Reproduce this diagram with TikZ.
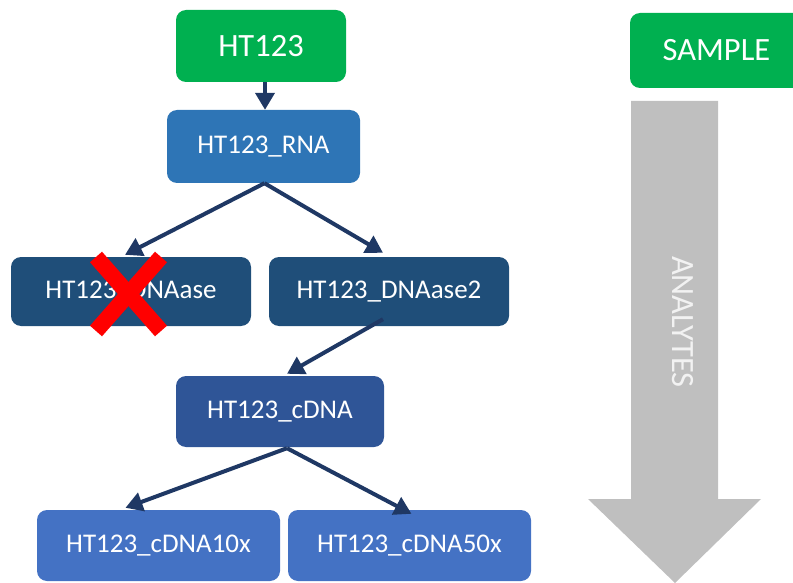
\documentclass[tikz,border=0pt]{standalone}
\usepackage{fontspec}
\setmainfont{Carlito}
\usetikzlibrary{arrows.meta}
\definecolor{cgreen}{HTML}{00B050}
\definecolor{crna}{HTML}{2E75B6}
\definecolor{cdn}{HTML}{1F4E79}
\definecolor{ccdna}{HTML}{2F5597}
\definecolor{cx}{HTML}{4472C4}
\definecolor{carrow}{HTML}{1F3864}
\definecolor{cgray}{HTML}{BFBFBF}
\tikzset{
  box/.style={rounded corners=10pt, inner sep=0pt, text=white, font=\fontsize{27}{30}\selectfont},
  bigbox/.style={box, font=\fontsize{32.5}{36}\selectfont},
  conn/.style={draw=carrow, line width=4pt, -{Triangle[length=17pt,width=19pt]}},
}
\begin{document}
\begin{tikzpicture}[x=1pt,y=-1pt]
\useasboundingbox (0,0) rectangle (793,583);
\clip (0,0) rectangle (793,583);
% nodes
\node[bigbox, fill=cgreen, minimum width=170pt, minimum height=72pt] (ht) at (261,46) {HT123};
\node[box, fill=crna, minimum width=193pt, minimum height=73pt] (rna) at (263.5,146.5) {HT123\_RNA};
\node[box, fill=cdn, minimum width=240pt, minimum height=69pt] (dn1) at (131,291.5) {HT123\_DNAase};
\node[box, fill=cdn, minimum width=240pt, minimum height=69pt] (dn2) at (389,291.5) {HT123\_DNAase2};
\node[box, fill=ccdna, minimum width=208pt, minimum height=71pt] (cdna) at (280,411.5) {HT123\_cDNA};
\node[box, fill=cx, minimum width=243pt, minimum height=71pt] (c10) at (158.5,545.5) {HT123\_cDNA10x};
\node[box, fill=cx, minimum width=243pt, minimum height=71pt] (c50) at (409.5,545.5) {HT123\_cDNA50x};
\node[bigbox, fill=cgreen, minimum width=173pt, minimum height=75pt] (sample) at (716.5,50.5) {SAMPLE};
% big gray arrow
\fill[cgray] (631,101) -- (718,101) -- (718,499) -- (761,499) -- (675,583) -- (588,499) -- (631,499) -- cycle;
\node[rotate=-90, text=white!95!black, font=\fontsize{32.5}{36}\selectfont] (analytes) at (683,322) {ANALYTES};
% connectors
\draw[conn] ([xshift=4pt]ht.south) -- ([xshift=4pt]ht.south |- rna.north);
\draw[conn] ([xshift=1pt]rna.south) -- ([xshift=-6pt,yshift=2pt]dn1.north);
\draw[conn] ([xshift=1pt]rna.south) -- ([xshift=-6pt,yshift=4pt]dn2.north);
\draw[conn] ([xshift=-6pt,yshift=7pt]dn2.south) -- ([xshift=7pt,yshift=2pt]cdna.north);
\draw[conn] ([xshift=7pt,yshift=-1pt]cdna.south) -- ([xshift=-33pt,yshift=2pt]c10.north);
\draw[conn] ([xshift=7pt,yshift=-1pt]cdna.south) -- ([xshift=2pt,yshift=-4pt]c50.north);
% red cross
\draw[red, line width=16pt] (96,257) -- (161,331);
\draw[red, line width=16pt] (161,257) -- (96,331);
\end{tikzpicture}
\end{document}
